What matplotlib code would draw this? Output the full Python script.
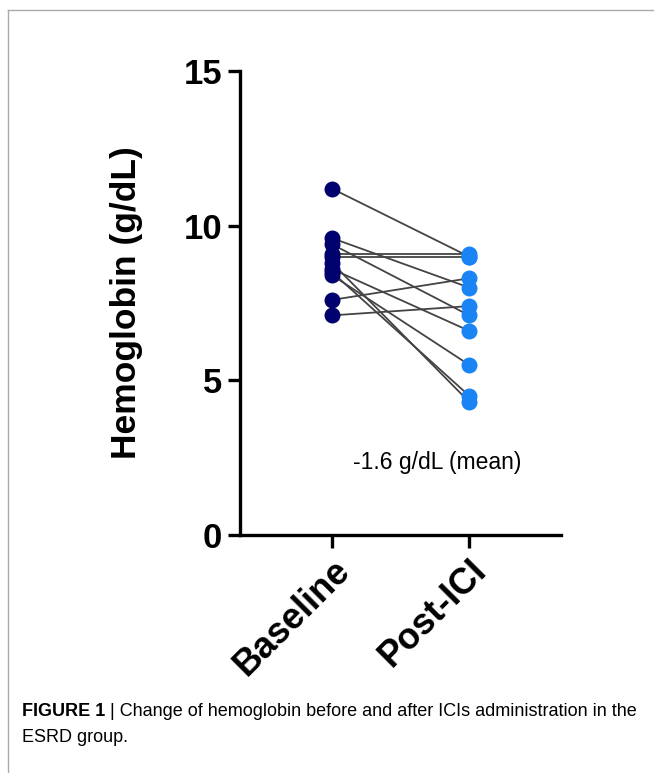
import matplotlib.pyplot as plt
from matplotlib.lines import Line2D

# Data
groups = ['Baseline', 'Post-ICI']
baseline = [11.2, 9.6, 9.4, 9.1, 9.0, 8.8, 8.6, 8.4, 7.6, 7.1, 8.5]
post_ici = [9.0, 8.0, 7.1, 9.1, 9.0, 4.3, 6.6, 5.5, 8.3, 7.4, 4.5]
y_ticks = [0, 5, 10, 15]
note = '-1.6 g/dL (mean)'
caption_bold = 'FIGURE 1'
caption_rest = ' | Change of hemoglobin before and after ICIs administration in the'
caption_line2 = 'ESRD group.'

plt.rcParams['font.family'] = ['Liberation Sans', 'DejaVu Sans']

fig = plt.figure(figsize=(6.54, 7.73), dpi=100)
ax = fig.add_axes([0.367, 0.308, 0.491, 0.600])

# paired lines, then points on top
for b, p in zip(baseline, post_ici):
    ax.plot([0, 1], [b, p], color='#444444', lw=1.3, zorder=1)
ax.scatter([0] * len(baseline), baseline, s=110, color='#02026e', zorder=3)
ax.scatter([1] * len(post_ici), post_ici, s=110, color='#1a84f5', zorder=3)

ax.text(0.77, 2.35, note, ha='center', va='center', fontsize=16.5)

ax.set_xlim(-0.67, 1.67)
ax.set_ylim(0, 15)
ax.set_yticks(y_ticks)
ax.set_yticklabels([str(t) for t in y_ticks], fontsize=25, fontweight='bold')
ax.set_xticks([0, 1])
ax.set_xticklabels(groups, fontsize=26, fontweight='bold', rotation=45,
                   ha='right', rotation_mode='anchor')
ax.set_ylabel('Hemoglobin (g/dL)', fontsize=25.5, fontweight='bold', labelpad=29)

for side in ['top', 'right']:
    ax.spines[side].set_visible(False)
for side in ['left', 'bottom']:
    ax.spines[side].set_linewidth(2.4)
ax.tick_params(width=2.4, length=9, pad=4)

# page frame and caption
fig.add_artist(Line2D([8 / 654, 1], [1 - 10 / 773] * 2, color='#aaaaaa', lw=1))
fig.add_artist(Line2D([8 / 654] * 2, [0, 1 - 10 / 773], color='#aaaaaa', lw=1))
y1 = 1 - 712 / 773
t1 = fig.text(22 / 654, y1, caption_bold, fontsize=13, fontweight='bold', va='center')
fig.canvas.draw()
bb = t1.get_window_extent()
fig.text(bb.x1 / fig.bbox.width, y1, caption_rest, fontsize=13, va='center')
fig.text(22 / 654, 1 - 737 / 773, caption_line2, fontsize=13, va='center')

fig.savefig('out.png', dpi=100)
